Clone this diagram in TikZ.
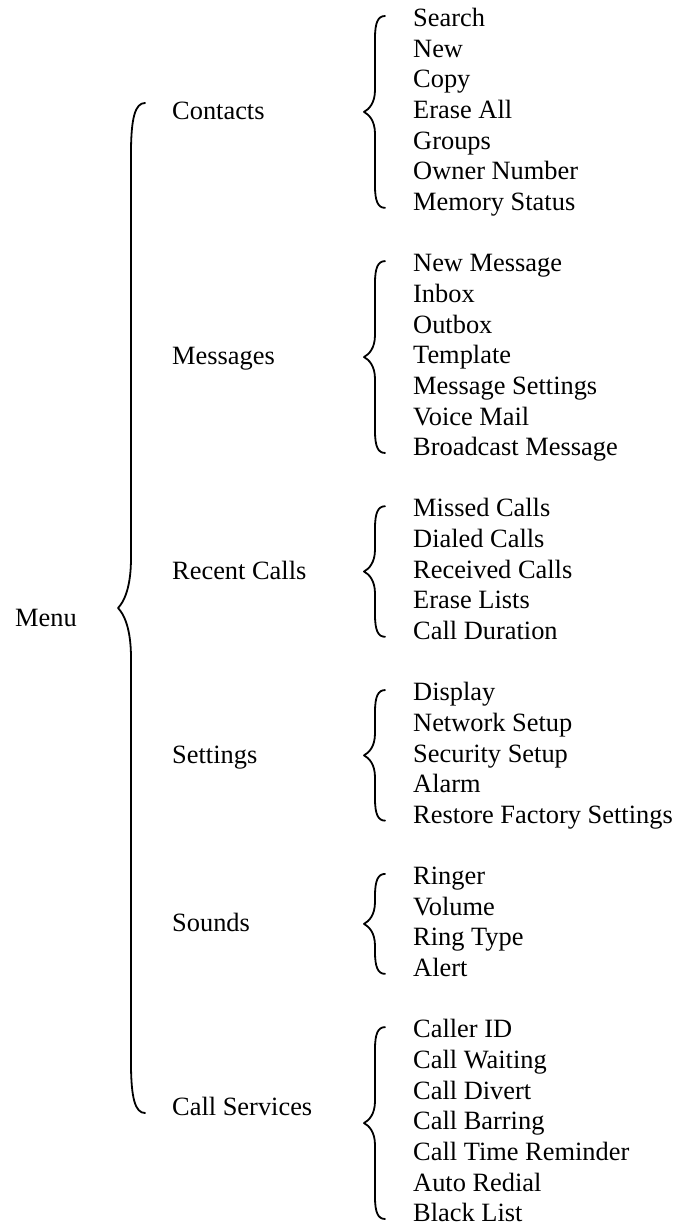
\documentclass[tikz,border=0pt]{standalone}
\usepackage{fontspec}
\setmainfont{Liberation Serif}
\newcommand\wbrace[6]{% #1 x end, #2 x vertical, #3 x tip, #4 top, #5 bottom, #6 hook
  \pgfmathsetmacro\btopy{#4}
  \pgfmathsetmacro\bboty{#5}
  \pgfmathsetmacro\bmidy{(\btopy+\bboty)/2}
  \draw[brc] (#1,\btopy) .. controls ({#2+0.3*(#1-#2)},\btopy) and (#2,{\btopy+0.3*#6}) .. (#2,{\btopy+#6})
    -- (#2,{\bmidy-#6}) .. controls (#2,{\bmidy-0.4*#6}) and ({#3+0.45*(#2-#3)},{\bmidy-0.12*#6}) .. (#3,\bmidy)
    .. controls ({#3+0.45*(#2-#3)},{\bmidy+0.12*#6}) and (#2,{\bmidy+0.4*#6}) .. (#2,{\bmidy+#6})
    -- (#2,{\bboty-#6}) .. controls (#2,{\bboty-0.3*#6}) and ({#2+0.3*(#1-#2)},\bboty) .. (#1,\bboty);
}
\begin{document}
\begin{tikzpicture}[x=1pt,y=-1pt,
  txt/.style={anchor=base west, inner sep=0pt, font=\fontsize{26.4}{30}\selectfont},
  brc/.style={line width=1.8pt, line cap=round, line join=round}]
\useasboundingbox (0,0) rectangle (677,1225);

% level 0 and level 1 labels
\node[txt] (menu) at (15,626) {Menu};
\node[txt] (contacts) at (172,119.5) {Contacts};
\node[txt] (messages) at (172,364) {Messages};
\node[txt] (recent) at (172,579) {Recent Calls};
\node[txt] (settings) at (172,763) {Settings};
\node[txt] (sounds) at (172,931) {Sounds};
\node[txt] (services) at (172,1115) {Call Services};

% items
\foreach \t [count=\k from 0] in {Search,New,Copy,Erase All,Groups,Owner Number,Memory Status}
  {\node[txt] (contacts-\k) at (413,{26.7+30.64*(0+\k)}) {\t};}
\foreach \t [count=\k from 0] in {New Message,Inbox,Outbox,Template,Message Settings,Voice Mail,Broadcast Message}
  {\node[txt] (messages-\k) at (413,{26.7+30.64*(8+\k)}) {\t};}
\foreach \t [count=\k from 0] in {Missed Calls,Dialed Calls,Received Calls,Erase Lists,Call Duration}
  {\node[txt] (recent-\k) at (413,{26.7+30.64*(16+\k)}) {\t};}
\foreach \t [count=\k from 0] in {Display,Network Setup,Security Setup,Alarm,Restore Factory Settings}
  {\node[txt] (settings-\k) at (413,{26.7+30.64*(22+\k)}) {\t};}
\foreach \t [count=\k from 0] in {Ringer,Volume,Ring Type,Alert}
  {\node[txt] (sounds-\k) at (413,{26.7+30.64*(28+\k)}) {\t};}
\foreach \t [count=\k from 0] in {Caller ID,Call Waiting,Call Divert,Call Barring,Call Time Reminder,Auto Redial,Black List}
  {\node[txt] (services-\k) at (413,{26.7+30.64*(33+\k)}) {\t};}

% braces
\wbrace{145}{131}{118}{103}{1113}{50}
\foreach \s/\e in {0/6,8/14,16/20,22/26,28/31,33/39}
  {\wbrace{385}{375}{364}{16+30.64*\s}{24+30.64*\e}{22}}
\end{tikzpicture}
\end{document}
